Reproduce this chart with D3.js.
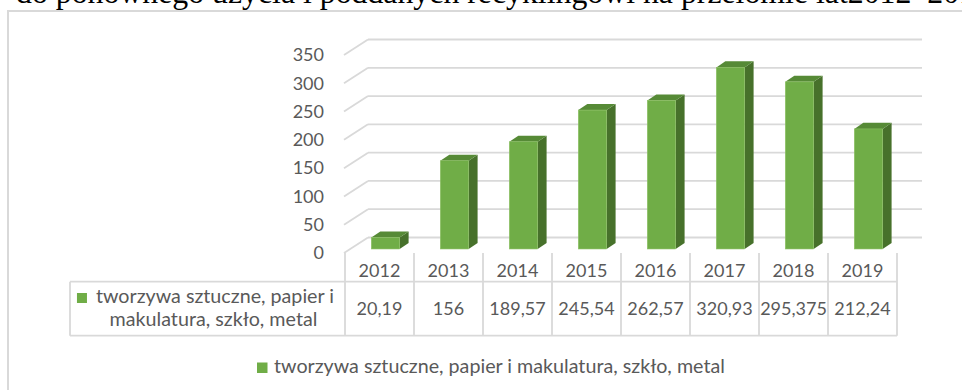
<!DOCTYPE html>
<html>
<head>
<meta charset="utf-8">
<script src="https://cdn.jsdelivr.net/npm/d3@7"></script>
<style>
  html, body { margin: 0; padding: 0; background: #fff; overflow: hidden; }
  svg { display: block; }
</style>
</head>
<body>
<svg id="chart" width="962" height="390"></svg>
<script>
// ---- data ----
const years = ["2012", "2013", "2014", "2015", "2016", "2017", "2018", "2019"];
const values = [20.19, 156, 189.57, 245.54, 262.57, 320.93, 295.375, 212.24];
const valueLabels = ["20,19", "156", "189,57", "245,54", "262,57", "320,93", "295,375", "212,24"];
const yTicks = [0, 50, 100, 150, 200, 250, 300, 350];
const seriesName = "tworzywa sztuczne, papier i makulatura, szkło, metal";
const seriesNameLines = ["tworzywa sztuczne, papier i", "makulatura, szkło, metal"];
const titleText = "do ponownego użycia i poddanych recyklingowi na przełomie lat2012–2019";

// ---- styles ----
const GREEN = "#70AD47", GREEN_TOP = "#568A36", GREEN_SIDE = "#47712B";
const GRID = "#d9d9d9", TEXT = "#595959";
const FONT = "Lato, 'Open Sans', sans-serif";
const NUM_SIZE = 18, WORD_SIZE = 19.7;

const svg = d3.select("#chart");

// document text line above the chart
svg.append("text")
  .attr("x", 16).attr("y", 3)
  .attr("font-family", "'Liberation Serif', 'Times New Roman', serif")
  .attr("font-size", 31.8)
  .attr("fill", "#000")
  .text(titleText);

// chart area frame
svg.append("rect")
  .attr("x", 8).attr("y", 11).attr("width", 1000).attr("height", 420)
  .attr("fill", "none").attr("stroke", GRID).attr("stroke-width", 2);

// ---- scales (front plane) ----
const x = d3.scaleBand().domain(years).range([345, 897]).paddingInner(0).paddingOuter(0);
const y = d3.scaleLinear().domain([0, 350]).range([253, 55]);

// oblique depth vector from front of floor to back wall
const DEPTH = { x: 23, y: -15.5 };
const barFront = 0.26, barBack = 0.65;
const barWidth = x.bandwidth() * 0.41;

// back wall gridlines + side wall diagonals
const grid = svg.append("g");
yTicks.forEach(t => {
  const yf = y(t);
  grid.append("line")
    .attr("x1", x.range()[0] + DEPTH.x).attr("x2", x.range()[1] + DEPTH.x + 2)
    .attr("y1", yf + DEPTH.y).attr("y2", yf + DEPTH.y)
    .attr("stroke", GRID).attr("stroke-width", 1.8);
  grid.append("line")
    .attr("x1", x.range()[0] - 1).attr("y1", yf)
    .attr("x2", x.range()[0] + DEPTH.x).attr("y2", yf + DEPTH.y)
    .attr("stroke", GRID).attr("stroke-width", 1.8);
});

// value axis labels
svg.append("g").selectAll("text").data(yTicks).join("text")
  .attr("x", 324).attr("y", d => y(d))
  .attr("dy", "0.35em")
  .attr("text-anchor", "end")
  .attr("font-family", FONT).attr("font-size", NUM_SIZE).attr("fill", TEXT)
  .text(d => d);

// 3D bars
const fx = DEPTH.x * barFront, fy = DEPTH.y * barFront;
const dx = DEPTH.x * (barBack - barFront), dy = DEPTH.y * (barBack - barFront);
const bars = svg.append("g").selectAll("g").data(years.map((yr, i) => ({ yr, v: values[i] }))).join("g");
bars.each(function (d) {
  const g = d3.select(this);
  const x0 = x(d.yr) + x.bandwidth() / 2 - barWidth / 2 + fx;
  const x1 = x0 + barWidth;
  const yb = y(0) + fy, yt = y(d.v) + fy;
  g.append("polygon")
    .attr("points", [[x1, yb], [x1 + dx, yb + dy], [x1 + dx, yt + dy], [x1, yt]].join(" "))
    .attr("fill", GREEN_SIDE);
  g.append("polygon")
    .attr("points", [[x0, yt], [x1, yt], [x1 + dx, yt + dy], [x0 + dx, yt + dy]].join(" "))
    .attr("fill", GREEN_TOP);
  g.append("rect")
    .attr("x", x0).attr("y", yt).attr("width", barWidth).attr("height", yb - yt)
    .attr("fill", GREEN).attr("stroke", "#8cc063").attr("stroke-width", 0.6);
});

// ---- data table ----
const tableLeft = 70, headTop = y(0), rowTop = 281.7, rowBottom = 335.7;
const table = svg.append("g").attr("stroke", GRID).attr("stroke-width", 1.8);
const edges = years.map(yr => x(yr)).concat([x.range()[1]]);
edges.forEach(ex => {
  table.append("line").attr("x1", ex).attr("x2", ex).attr("y1", headTop).attr("y2", rowBottom);
});
table.append("line").attr("x1", tableLeft).attr("x2", x.range()[1]).attr("y1", rowTop).attr("y2", rowTop);
table.append("line").attr("x1", tableLeft).attr("x2", x.range()[1]).attr("y1", rowBottom).attr("y2", rowBottom);
table.append("line").attr("x1", tableLeft).attr("x2", tableLeft).attr("y1", rowTop).attr("y2", rowBottom);

// category labels
svg.append("g").selectAll("text").data(years).join("text")
  .attr("x", d => x(d) + x.bandwidth() / 2).attr("y", 271)
  .attr("dy", "0.35em").attr("text-anchor", "middle")
  .attr("font-family", FONT).attr("font-size", NUM_SIZE).attr("fill", TEXT)
  .text(d => d);

// value cells
svg.append("g").selectAll("text").data(valueLabels).join("text")
  .attr("x", (d, i) => x(years[i]) + x.bandwidth() / 2).attr("y", 309)
  .attr("dy", "0.35em").attr("text-anchor", "middle")
  .attr("font-family", FONT).attr("font-size", NUM_SIZE).attr("fill", TEXT)
  .text(d => d);

// row header: legend key + series name on two lines, centred in cell
const cellCx = (tableLeft + x.range()[0]) / 2;
const keySize = 10, keyGap = 9;
const l1 = svg.append("text")
  .attr("y", 303).attr("font-family", FONT).attr("font-size", WORD_SIZE).attr("fill", TEXT)
  .text(seriesNameLines[0]);
const w1 = l1.node().getComputedTextLength();
const start1 = cellCx - 2 - (keySize + keyGap + w1) / 2;
l1.attr("x", start1 + keySize + keyGap);
svg.append("rect").attr("x", start1).attr("y", 293).attr("width", keySize).attr("height", keySize).attr("fill", GREEN);
svg.append("text")
  .attr("x", cellCx + 6).attr("y", 326).attr("text-anchor", "middle")
  .attr("font-family", FONT).attr("font-size", WORD_SIZE).attr("fill", TEXT)
  .text(seriesNameLines[1]);

// bottom legend
svg.append("rect").attr("x", 257).attr("y", 362.5).attr("width", 10.5).attr("height", 10.5).attr("fill", GREEN);
svg.append("text")
  .attr("x", 274).attr("y", 373)
  .attr("font-family", FONT).attr("font-size", WORD_SIZE).attr("fill", TEXT)
  .text(seriesName);
</script>
</body>
</html>
